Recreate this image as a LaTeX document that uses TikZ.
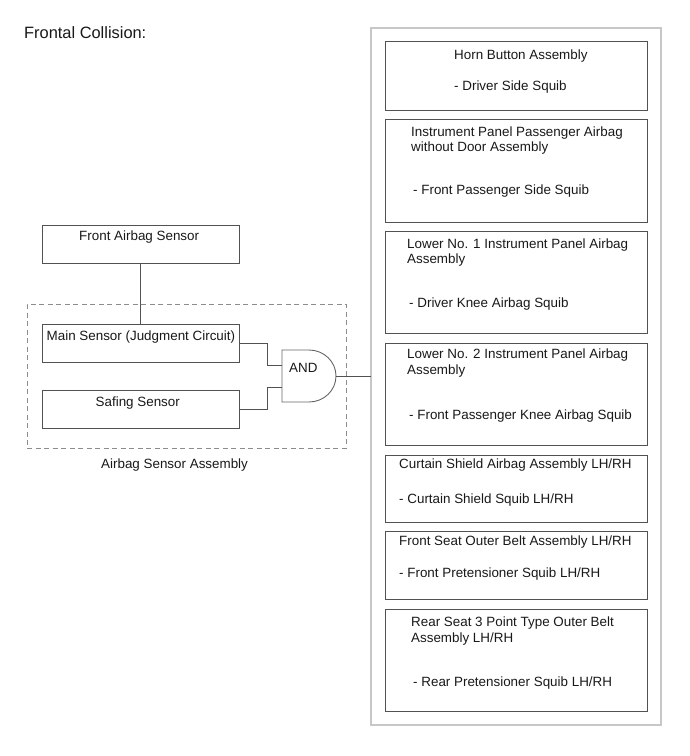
\documentclass[tikz,border=0pt]{standalone}
\usepackage{fontspec}
\setmainfont{Liberation Sans}
\begin{document}
\begin{tikzpicture}[x=1pt,y=-1pt,
  framebox/.style={draw=black!68,line width=0.9pt,inner sep=0pt,outer sep=0pt},
  outerframe/.style={draw=black!22,line width=1.2pt,inner sep=0pt,outer sep=0pt},
  groupframe/.style={draw=black!45,line width=0.8pt,dash pattern=on 5pt off 3.5pt,inner sep=0pt,outer sep=0pt},
  wire/.style={draw=black!68,line width=0.9pt},
  gatewire/.style={draw=black!60,line width=0.9pt},
  caption/.style={anchor=base west,inner sep=0pt,font=\fontsize{13.4pt}{16pt}\selectfont,text=black!90},
  heading/.style={anchor=base west,inner sep=0pt,font=\fontsize{16.4pt}{19pt}\selectfont,text=black!90}]
\useasboundingbox (0,0) rectangle (690,756);
\path[fill=white] (0,0) rectangle (690,756);

% Enclosing panel and assembly group
\node[outerframe,minimum width=290pt,minimum height=697pt,anchor=north west] (panel) at (371,28) {};
\node[groupframe,minimum width=319pt,minimum height=144pt,anchor=north west] (group) at (27,304) {};

% Sensors
\node[framebox,minimum width=197.5pt,minimum height=38pt,anchor=north west] (front) at (42,225) {};
\node[framebox,minimum width=197.5pt,minimum height=38.5pt,anchor=north west] (main) at (42,324) {};
\node[framebox,minimum width=197.5pt,minimum height=38pt,anchor=north west] (safing) at (42,390.5) {};

% AND gate: a flat back and a rounded front
\node[minimum width=54pt,minimum height=52pt,inner sep=0pt,outer sep=0pt,anchor=north west] (gate) at (282,350) {};
\draw[gatewire] (gate.north west) -- ++(27,0) arc[start angle=-90,end angle=90,x radius=27pt,y radius=-26pt] -- (gate.south west) -- cycle;

% Squib boxes
\foreach \name/\top/\high in {horn/41.5/68.5,ipanel/119/103,knee1/231/102,knee2/343/102,curtain/455/67,fseat/531/68,rseat/609/102}
  \node[framebox,minimum width=262pt,minimum height=\high pt,anchor=north west] (\name) at (385,\top) {};

% Connectors
\draw[wire] (front.south) -- (main.north);
\draw[wire] (main.east) -| (267,365.5) -- (267,365.5 -| gate.west);
\draw[wire] (safing.east) -| (267,387.5) -- (267,387.5 -| gate.west);
\draw[wire] (gate.east) -- (gate.east -| panel.west);

% Labels
\node[heading] (title) at (24,38) {Frontal Collision:};
\node[caption] (tfront) at (79,240) {Front Airbag Sensor};
\node[caption] (tmain) at (46.5,340) {Main Sensor (Judgment Circuit)};
\node[caption] (tsafe) at (95.5,406) {Safing Sensor};
\node[caption] (tand) at (289,372) {AND};
\node[caption] (tgroup) at (101,468) {Airbag Sensor Assembly};
\node[caption] (t1a) at (454,59) {Horn Button Assembly};
\node[caption] (t1b) at (454,90) {- Driver Side Squib};
\node[caption] (t2a) at (411,136) {Instrument Panel Passenger Airbag};
\node[caption] (t2b) at (411,151) {without Door Assembly};
\node[caption] (t2c) at (413,194) {- Front Passenger Side Squib};
\node[caption] (t3a) at (407,248) {Lower No. 1 Instrument Panel Airbag};
\node[caption] (t3b) at (407,263) {Assembly};
\node[caption] (t3c) at (409,307) {- Driver Knee Airbag Squib};
\node[caption] (t4a) at (407,358) {Lower No. 2 Instrument Panel Airbag};
\node[caption] (t4b) at (407,374) {Assembly};
\node[caption] (t4c) at (409,419) {- Front Passenger Knee Airbag Squib};
\node[caption] (t5a) at (399,468) {Curtain Shield Airbag Assembly LH/RH};
\node[caption] (t5b) at (399,503) {- Curtain Shield Squib LH/RH};
\node[caption] (t6a) at (399,545) {Front Seat Outer Belt Assembly LH/RH};
\node[caption] (t6b) at (399,577) {- Front Pretensioner Squib LH/RH};
\node[caption] (t7a) at (411,626) {Rear Seat 3 Point Type Outer Belt};
\node[caption] (t7b) at (411,642) {Assembly LH/RH};
\node[caption] (t7c) at (413,686) {- Rear Pretensioner Squib LH/RH};
\end{tikzpicture}
\end{document}
